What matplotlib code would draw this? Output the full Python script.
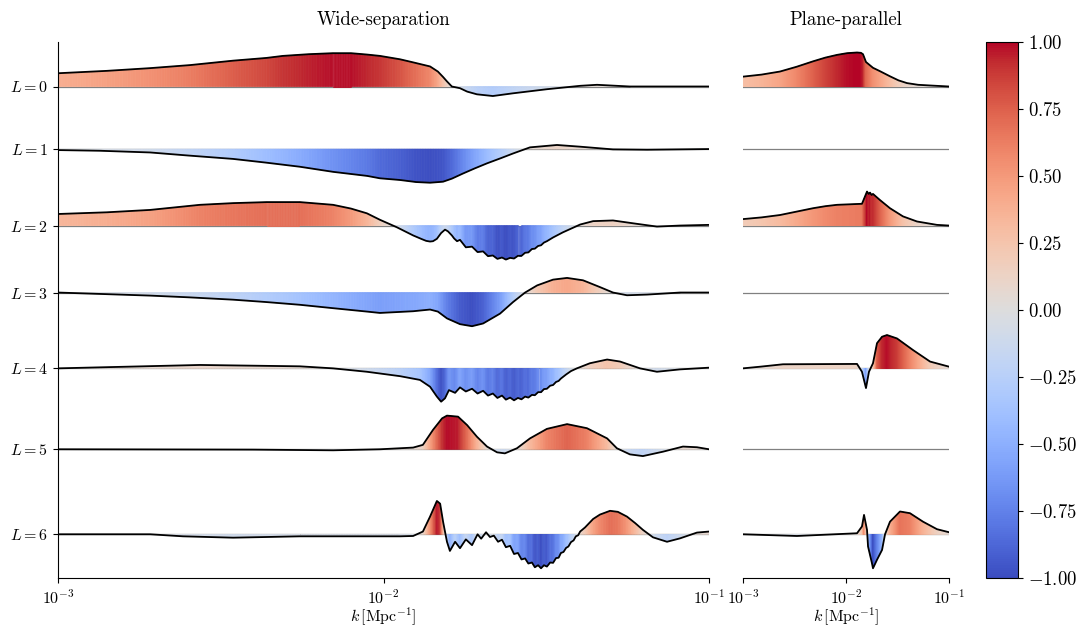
import numpy as np
import matplotlib
matplotlib.use("Agg")
import matplotlib.pyplot as plt
import matplotlib.ticker as mticker
from matplotlib.collections import PolyCollection
from matplotlib.colors import Normalize

plt.rcParams.update({
    "font.family": "serif",
    "font.serif": ["cmr10"],
    "mathtext.fontset": "cm",
    "axes.formatter.use_mathtext": True,
})

# ── data: (log10 k, normalised amplitude) per multipole ──────────────────────
WS_L0 = [(-3.0, 0.39), (-2.85, 0.46), (-2.717, 0.54), (-2.594, 0.63), (-2.462, 0.76),
         (-2.36, 0.84), (-2.309, 0.90), (-2.23, 0.95), (-2.155, 0.98), (-2.10, 0.98),
         (-2.051, 0.94), (-2.011, 0.90), (-1.949, 0.80), (-1.909, 0.71), (-1.857, 0.59),
         (-1.833, 0.44), (-1.817, 0.28), (-1.805, 0.15), (-1.790, 0.0), (-1.765, -0.05),
         (-1.743, -0.15), (-1.713, -0.23), (-1.664, -0.28), (-1.602, -0.20), (-1.498, -0.08),
         (-1.396, 0.02), (-1.344, 0.05), (-1.243, 0.0), (-1.0, 0.0)]
WS_L1 = [(-3.0, -0.03), (-2.871, -0.05), (-2.717, -0.10), (-2.60, -0.19), (-2.462, -0.29),
         (-2.36, -0.40), (-2.257, -0.52), (-2.155, -0.67), (-2.05, -0.79), (-2.011, -0.86),
         (-1.949, -0.91), (-1.90, -0.97), (-1.857, -0.99), (-1.817, -0.96), (-1.79, -0.87),
         (-1.756, -0.72), (-1.72, -0.57), (-1.682, -0.42), (-1.64, -0.27), (-1.602, -0.13),
         (-1.550, 0.05), (-1.467, 0.12), (-1.396, 0.07), (-1.295, -0.01), (-1.190, -0.02),
         (-1.0, 0.0)]
WS_L2 = [(-3.0, 0.34), (-2.85, 0.39), (-2.717, 0.46), (-2.564, 0.61), (-2.462, 0.66),
         (-2.358, 0.69), (-2.257, 0.69), (-2.155, 0.61), (-2.10, 0.50), (-2.051, 0.36),
         (-2.011, 0.17), (-1.959, -0.05), (-1.909, -0.29), (-1.882, -0.40), (-1.869, -0.45),
         (-1.857, -0.47), (-1.848, -0.46), (-1.836, -0.39), (-1.823, -0.22), (-1.811, -0.12),
         (-1.802, -0.17), (-1.790, -0.29), (-1.783, -0.38), (-1.774, -0.46), (-1.765, -0.42),
         (-1.747, -0.64), (-1.728, -0.62), (-1.711, -0.78), (-1.694, -0.76), (-1.679, -0.90),
         (-1.664, -0.88), (-1.650, -0.98), (-1.636, -0.94), (-1.624, -1.0), (-1.611, -0.95),
         (-1.599, -0.97), (-1.587, -0.89), (-1.576, -0.89), (-1.565, -0.80), (-1.555, -0.79),
         (-1.544, -0.69), (-1.535, -0.68), (-1.525, -0.60), (-1.516, -0.58), (-1.507, -0.50),
         (-1.498, -0.46), (-1.479, -0.35), (-1.449, -0.20), (-1.396, 0.03), (-1.356, 0.13),
         (-1.295, 0.15), (-1.221, 0.05), (-1.160, -0.03), (-1.089, 0.0), (-1.0, 0.02)]
WS_L3 = [(-3.0, 0.0), (-2.717, -0.09), (-2.60, -0.14), (-2.462, -0.21), (-2.36, -0.28),
         (-2.257, -0.36), (-2.155, -0.46), (-2.051, -0.56), (-2.011, -0.60), (-1.909, -0.55),
         (-1.857, -0.50), (-1.833, -0.56), (-1.805, -0.76), (-1.765, -0.93), (-1.728, -0.99),
         (-1.694, -0.91), (-1.642, -0.62), (-1.602, -0.28), (-1.565, 0.0), (-1.528, 0.21),
         (-1.479, 0.38), (-1.436, 0.43), (-1.387, 0.36), (-1.335, 0.16), (-1.295, 0.0),
         (-1.252, -0.08), (-1.190, -0.06), (-1.089, 0.0), (-1.0, 0.0)]
WS_L4 = [(-3.0, 0.0), (-2.871, 0.03), (-2.564, 0.10), (-2.257, 0.06), (-2.155, 0.0),
         (-2.051, -0.10), (-1.949, -0.23), (-1.888, -0.34), (-1.857, -0.54), (-1.836, -0.83),
         (-1.823, -0.98), (-1.811, -0.88), (-1.799, -0.64), (-1.780, -0.72), (-1.765, -0.56),
         (-1.747, -0.68), (-1.728, -0.60), (-1.711, -0.74), (-1.694, -0.66), (-1.679, -0.80),
         (-1.664, -0.74), (-1.650, -0.87), (-1.636, -0.80), (-1.624, -0.92), (-1.611, -0.86),
         (-1.599, -0.94), (-1.587, -0.87), (-1.576, -0.91), (-1.565, -0.83), (-1.555, -0.86),
         (-1.544, -0.78), (-1.535, -0.79), (-1.525, -0.70), (-1.516, -0.70), (-1.507, -0.61),
         (-1.498, -0.60), (-1.488, -0.51), (-1.479, -0.49), (-1.470, -0.40), (-1.462, -0.37),
         (-1.455, -0.30), (-1.439, -0.18), (-1.424, -0.08), (-1.406, 0.0), (-1.366, 0.15),
         (-1.313, 0.26), (-1.273, 0.20), (-1.212, 0.0), (-1.160, -0.10), (-1.089, -0.03),
         (-1.0, 0.02)]
WS_L5 = [(-3.0, 0.0), (-2.40, -0.01), (-2.155, -0.03), (-2.011, 0.0), (-1.909, 0.05),
         (-1.879, 0.13), (-1.848, 0.57), (-1.820, 0.91), (-1.805, 0.99), (-1.771, 0.96),
         (-1.743, 0.71), (-1.713, 0.37), (-1.682, 0.08), (-1.651, -0.09), (-1.627, -0.12),
         (-1.590, 0.03), (-1.550, 0.32), (-1.498, 0.60), (-1.436, 0.74), (-1.375, 0.62),
         (-1.313, 0.32), (-1.283, 0.03), (-1.243, -0.15), (-1.203, -0.20), (-1.141, -0.07),
         (-1.080, 0.08), (-1.037, 0.06), (-1.0, 0.0)]
WS_L6 = [(-3.0, 0.0), (-2.717, 0.0), (-2.616, -0.06), (-2.462, -0.10), (-2.257, -0.06),
         (-1.949, -0.06), (-1.909, -0.05), (-1.879, 0.08), (-1.857, 0.52), (-1.836, 0.98),
         (-1.826, 0.90), (-1.817, 0.37), (-1.805, -0.22), (-1.796, -0.49), (-1.780, -0.22),
         (-1.765, -0.41), (-1.747, -0.15), (-1.728, -0.32), (-1.711, 0.0), (-1.700, -0.13),
         (-1.685, 0.06), (-1.673, -0.08), (-1.661, -0.04), (-1.648, -0.22), (-1.636, -0.16),
         (-1.624, -0.38), (-1.611, -0.34), (-1.599, -0.58), (-1.587, -0.55), (-1.576, -0.74),
         (-1.565, -0.71), (-1.555, -0.86), (-1.544, -0.83), (-1.535, -0.97), (-1.525, -0.91),
         (-1.516, -1.0), (-1.507, -0.91), (-1.498, -0.95), (-1.488, -0.83), (-1.479, -0.84),
         (-1.470, -0.70), (-1.462, -0.69), (-1.455, -0.55), (-1.447, -0.52), (-1.439, -0.40),
         (-1.432, -0.36), (-1.424, -0.23), (-1.416, -0.18), (-1.409, -0.06), (-1.402, -0.03),
         (-1.396, 0.08), (-1.381, 0.20), (-1.356, 0.45), (-1.335, 0.58), (-1.304, 0.69),
         (-1.280, 0.66), (-1.252, 0.52), (-1.227, 0.33), (-1.203, 0.13), (-1.172, -0.09),
         (-1.129, -0.22), (-1.089, -0.12), (-1.037, 0.05), (-1.0, 0.08)]

PP_L0 = [(-3.0, 0.29), (-2.82, 0.35), (-2.641, 0.44), (-2.48, 0.58), (-2.320, 0.74),
         (-2.20, 0.85), (-2.087, 0.93), (-1.99, 0.98), (-1.893, 1.0), (-1.855, 0.99),
         (-1.835, 0.95), (-1.806, 0.72), (-1.738, 0.55), (-1.670, 0.45), (-1.573, 0.30),
         (-1.49, 0.18), (-1.408, 0.10), (-1.30, 0.05), (-1.184, 0.03), (-1.0, 0.0)]
PP_L2 = [(-3.0, 0.19), (-2.82, 0.24), (-2.641, 0.31), (-2.48, 0.41), (-2.320, 0.51),
         (-2.20, 0.57), (-2.087, 0.61), (-1.845, 0.64), (-1.796, 1.0), (-1.780, 0.93),
         (-1.767, 0.97), (-1.752, 0.90), (-1.738, 0.93), (-1.670, 0.75), (-1.573, 0.51),
         (-1.447, 0.27), (-1.311, 0.12), (-1.117, 0.02), (-1.0, 0.0)]
PP_L4 = [(-3.0, 0.0), (-2.83, 0.05), (-2.612, 0.12), (-1.893, 0.13), (-1.845, -0.10),
         (-1.806, -0.58), (-1.777, -0.10), (-1.738, 0.15), (-1.699, 0.74), (-1.650, 0.93),
         (-1.602, 0.98), (-1.505, 0.88), (-1.350, 0.54), (-1.184, 0.20), (-1.0, 0.05)]
PP_L6 = [(-3.0, 0.0), (-2.476, -0.05), (-1.893, 0.03), (-1.845, 0.23), (-1.825, 0.57),
         (-1.796, 0.13), (-1.786, -0.36), (-1.748, -0.85), (-1.738, -1.0), (-1.699, -0.75),
         (-1.650, -0.46), (-1.621, 0.0), (-1.573, 0.37), (-1.476, 0.67), (-1.379, 0.62),
         (-1.252, 0.37), (-1.117, 0.15), (-1.0, 0.06)]

WIDE = [WS_L0, WS_L1, WS_L2, WS_L3, WS_L4, WS_L5, WS_L6]
PLANE = [PP_L0, None, PP_L2, None, PP_L4, None, PP_L6]
ELLS = [0, 1, 2, 3, 4, 5, 6]

# vertical placement of each row (layout)
OFFSETS = [0.0, 1.84, 4.09, 6.06, 8.29, 10.67, 13.17]

cmap = plt.get_cmap("coolwarm")
norm = Normalize(-1, 1)


def draw_row(ax, row, off):
    ax.axhline(-off, color="0.5", lw=0.9, zorder=1)
    if row is None:
        return
    lk = np.array([p[0] for p in row])
    v = np.array([p[1] for p in row])
    # colour strips under the curve
    grid = np.linspace(lk[0], lk[-1], 900)
    gv = np.interp(grid, lk, v)
    x = 10 ** grid
    verts = [[(x[i], -off), (x[i], -off + gv[i]), (x[i + 1], -off + gv[i + 1]), (x[i + 1], -off)]
             for i in range(len(x) - 1)]
    cols = cmap(norm(0.5 * (gv[:-1] + gv[1:])))
    pc = PolyCollection(verts, facecolors=cols, edgecolors=cols, linewidths=0.4, zorder=2)
    ax.add_collection(pc)
    ax.plot(10 ** lk, -off + v, color="k", lw=1.3, zorder=3)


fig = plt.figure(figsize=(10.76, 6.29), dpi=100)
ax1 = fig.add_axes([58 / 1076, 1 - 578 / 629, 651 / 1076, 536 / 629])
ax2 = fig.add_axes([743 / 1076, 1 - 578 / 629, 206 / 1076, 536 / 629])
cax = fig.add_axes([986 / 1076, 1 - 578 / 629, 32 / 1076, 536 / 629])

for L, off in zip(ELLS, OFFSETS):
    draw_row(ax1, WIDE[L], off)
    draw_row(ax2, PLANE[L], off)

ytop = (86.5 - 42) / 34
ybot = -(578 - 86.5) / 34
for ax in (ax1, ax2):
    ax.set_xscale("log")
    ax.set_xlim(1e-3, 1e-1)
    ax.set_ylim(ybot, ytop)
    ax.xaxis.set_minor_locator(mticker.NullLocator())
    ax.spines["top"].set_visible(False)
    ax.spines["right"].set_visible(False)
    ax.tick_params(axis="x", labelsize=11.5)
    ax.set_xlabel(r"$k\,[\mathrm{Mpc}^{-1}]$", fontsize=11.5, labelpad=0)

ax1.set_yticks([-o for o in OFFSETS])
ax1.set_yticklabels([f"$L = {L}$" for L in ELLS], fontsize=11.5)
ax2.spines["left"].set_visible(False)
ax2.set_yticks([])

ax1.set_title("Wide-separation", fontsize=13.5, pad=12)
ax2.set_title("Plane-parallel", fontsize=13.5, pad=12)

sm = plt.cm.ScalarMappable(norm=norm, cmap=cmap)
cb = fig.colorbar(sm, cax=cax, ticks=[-1, -0.75, -0.5, -0.25, 0, 0.25, 0.5, 0.75, 1])
cb.ax.yaxis.set_major_formatter(mticker.FormatStrFormatter(r"$%.2f$"))
cb.ax.tick_params(labelsize=13.5)

fig.savefig("out.png", dpi=100)
